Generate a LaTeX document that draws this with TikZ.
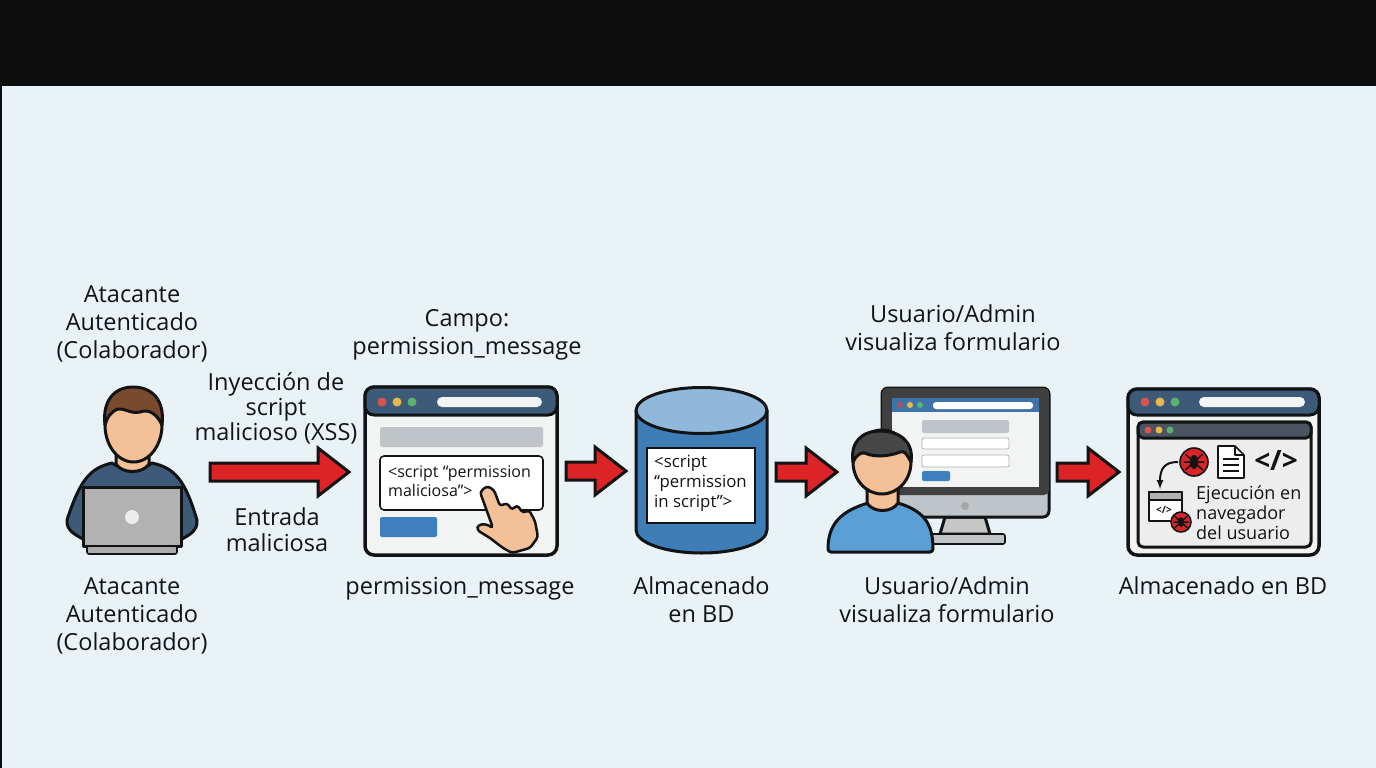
\documentclass[tikz,border=0pt]{standalone}
\usepackage{fontspec}
\setmainfont{Open Sans}
\usetikzlibrary{calc}
\definecolor{paper}{HTML}{E9F3F7}
\definecolor{ink}{HTML}{121315}
\definecolor{arrowred}{HTML}{DC2426}
\definecolor{slate}{HTML}{3D5A78}
\definecolor{skin}{HTML}{F3C097}
\definecolor{hairbrown}{HTML}{7A4A2E}
\definecolor{barblue}{HTML}{3F7FC0}
\definecolor{dbblue}{HTML}{3F7DB6}
\definecolor{dbtop}{HTML}{8FB8DA}
\definecolor{shirt}{HTML}{5A9FD6}
\definecolor{greybar}{HTML}{BFC4C8}
\definecolor{panel}{HTML}{F2F3F3}
\definecolor{innerbar}{HTML}{4A5561}
\definecolor{dotred}{HTML}{D9534F}
\definecolor{dotyellow}{HTML}{E8B84A}
\definecolor{dotgreen}{HTML}{5CB270}
\tikzset{
  lbl/.style={text=ink,align=center,font=\fontsize{23.5}{28}\selectfont,inner sep=0pt},
  boxtext/.style={text=ink,align=left,anchor=west,inner sep=0pt,font=\fontsize{16}{19.5}\selectfont},
  slot/.style={minimum width=#1,inner sep=0pt,outer sep=0pt},
  outline/.style={draw=ink,line width=3pt,line join=round},
  thinline/.style={draw=ink,line width=1.6pt,line join=round},
  window/.style={draw=ink,fill=panel,line width=3.5pt,rounded corners=9pt,inner sep=0pt,outer sep=0pt},
  flowarrow/.style 2 args={draw=ink,fill=arrowred,line width=3pt,line join=miter,
    to path={let \p1=(\tikztostart),\p2=(\tikztotarget) in
      (\x1+#1pt,\y1+9pt)--(\x2-#2pt-31pt,\y1+9pt)--(\x2-#2pt-31pt,\y1+24pt)--(\x2-#2pt,\y1)
      --(\x2-#2pt-31pt,\y1-24pt)--(\x2-#2pt-31pt,\y1-9pt)--(\x1+#1pt,\y1-9pt)--cycle}},
  bug/.pic={
    \fill[arrowred,draw=ink,line width=1.6pt] (0,0) circle (#1);
    \draw[ink,line width=1.5pt,line cap=round]
      (-0.6*#1,-0.55*#1) -- (0.6*#1,0.55*#1)
      (0.6*#1,-0.55*#1) -- (-0.6*#1,0.55*#1)
      (-0.7*#1,0) -- (0.7*#1,0);
    \fill[ink] (0,0) ellipse (0.3*#1 and 0.5*#1);
  }
}
\begin{document}
\begin{tikzpicture}[x=1pt,y=-1pt]
\useasboundingbox (0,0) rectangle (1376,768);
\fill[paper] (0,0) rectangle (1376,768);
\fill[black!95] (0,0) rectangle (1376,85.5);
\fill[black!95] (0,0) rectangle (2,768);

% attacker
\node[slot=132pt,minimum height=170pt] (attacker) at (132,472) {};
\draw[outline,fill=slate] (112,463) .. controls (90,468) and (80,480) .. (67,520)
  .. controls (66,530) and (75,535) .. (85,540) -- (180,540)
  .. controls (190,535) and (198,530) .. (197,520)
  .. controls (185,480) and (175,468) .. (152,463) .. controls (145,470) and (120,470) .. (112,463) -- cycle;
\draw[outline,fill=skin] (116,450) -- (116,464) .. controls (122,474) and (143,474) .. (149,464) -- (149,450) -- cycle;
\draw[outline,fill=skin] (133.5,425) ellipse (28.5 and 37);
\draw[outline,fill=hairbrown] (105,425) .. controls (102,400) and (115,387) .. (133,387)
  .. controls (152,387) and (165,400) .. (162,425) .. controls (158,416) and (150,408) .. (140,412)
  .. controls (130,414) and (125,408) .. (118,409) .. controls (110,412) and (107,418) .. (105,425) -- cycle;
\draw[outline,fill=gray!60] (83,487) rectangle (181,546);
\fill[white!85!gray] (132,517) circle (7);
\draw[thinline,fill=gray!65,rounded corners=2pt] (87,546) rectangle (177,554);

% form
\node[window,minimum width=192pt,minimum height=168pt] (form) at (461,471) {};
\draw[outline,fill=slate,rounded corners=9pt] (365,415) -- (365,387) -- (557,387) -- (557,415) -- cycle;
\fill[dotred] (382,402) circle (4.5);
\fill[dotyellow] (397,402) circle (4.5);
\fill[dotgreen] (412,402) circle (4.5);
\fill[panel,rounded corners=5pt] (437,397) rectangle (542,407);
\fill[greybar,rounded corners=2pt] (380,427) rectangle (543,447);
\draw[thinline,fill=white,rounded corners=4pt] (380,456) rectangle (543,510);
\node[boxtext] (formcode) at (388,481) {<script “permission\\maliciosa”>};
\fill[barblue,rounded corners=2pt] (380,517) rectangle (437,537);
\draw[outline,line width=2.5pt,fill=skin,rounded corners=3pt] (480,492) -- (487,486) -- (494,490) -- (500,506)
  -- (507,503) -- (512,510) -- (517,505) -- (523,513) -- (529,510) -- (535,521) -- (538,537) -- (530,548)
  -- (512,553) -- (503,548) -- (490,538) -- (477,530) -- (478,525) -- (486,524) -- (493,528) -- cycle;

% database
\node[slot=131pt,minimum height=166pt] (db) at (701.5,472) {};
\draw[outline,fill=dbblue] (636,410.5) -- (636,530) arc[start angle=180,end angle=360,x radius=65.5,y radius=-23]
  -- (767,410.5) -- cycle;
\draw[outline,fill=dbtop] (701.5,410.5) ellipse (65.5 and 23);
\node[draw=ink,line width=2pt,fill=white,minimum width=108pt,minimum height=75pt,inner sep=0pt] (dbbox) at (701,485.5) {};
\node[boxtext,font=\fontsize{16.8}{20}\selectfont] (dbcode) at (654,483) {<script\\“permission\\in script”>};

% monitor with user
\node[slot=221pt,minimum height=168pt] (viewer) at (938.5,472) {};
\draw[outline,fill=gray!45] (945,517) -- (985,517) -- (990,534) -- (940,534) -- cycle;
\draw[thinline,fill=greybar,rounded corners=2pt] (925,534) rectangle (1005,544);
\draw[outline,fill=greybar,rounded corners=6pt] (882,388) rectangle (1049,517);
\fill[black!75,rounded corners=5pt] (882,388) rectangle (1049,495);
\fill[panel] (892,398) rectangle (1039,487);
\fill[barblue!70!slate] (892,398) rectangle (1039,412);
\fill[dotred!70!slate] (900,405) circle (3);
\fill[dotyellow] (910,405) circle (3);
\fill[dotgreen] (920,405) circle (3);
\fill[white,rounded corners=3pt] (933,402) rectangle (1033,409);
\fill[greybar,rounded corners=2pt] (922,420) rectangle (1009,433);
\draw[gray!60,fill=white,rounded corners=2pt,line width=0.8pt] (922,438) rectangle (1009,449);
\draw[gray!60,fill=white,rounded corners=2pt,line width=0.8pt] (922,455) rectangle (1009,467);
\fill[barblue,rounded corners=2pt] (922,471) rectangle (950,481);
\fill[gray!70] (965,506) circle (4);
\draw[outline,fill=shirt,rounded corners=3pt] (828,552) .. controls (828,525) and (840,512) .. (868,503)
  -- (898,503) .. controls (925,512) and (933,525) .. (933,552) -- cycle;
\draw[outline,fill=skin] (867,485) -- (867,503) .. controls (873,513) and (892,513) .. (898,503) -- (898,485) -- cycle;
\draw[outline,fill=skin] (882,462) ellipse (29 and 32);
\draw[outline,fill=black!72] (853,462) .. controls (850,442) and (862,431) .. (880,431)
  .. controls (900,431) and (914,442) .. (911,462) .. controls (907,455) and (905,450) .. (900,452)
  .. controls (885,458) and (870,456) .. (865,453) .. controls (860,452) and (856,456) .. (853,462) -- cycle;

% browser
\node[window,minimum width=191pt,minimum height=166pt] (browser) at (1223.5,472) {};
\draw[outline,fill=slate,rounded corners=9pt] (1128,415) -- (1128,389) -- (1319,389) -- (1319,415) -- cycle;
\fill[dotred] (1145,402) circle (4.5);
\fill[dotyellow] (1160,402) circle (4.5);
\fill[dotgreen] (1175,402) circle (4.5);
\fill[panel,rounded corners=5pt] (1199,397) rectangle (1305,407);
\draw[outline,fill=black!7,rounded corners=5pt] (1138,422) rectangle (1311,547);
\draw[outline,fill=innerbar,rounded corners=5pt] (1138,438) -- (1138,422) -- (1311,422) -- (1311,438) -- cycle;
\fill[dotred] (1148,430) circle (3.5);
\fill[dotyellow] (1159,430) circle (3.5);
\fill[dotgreen] (1170,430) circle (3.5);
\pic (bigbug) at (1194,462) {bug=14};
\draw[thinline,fill=white] (1218,446) -- (1235,446) -- (1244,455) -- (1244,478) -- (1218,478) -- cycle;
\draw[thinline] (1235,446) -- (1235,455) -- (1244,455)
  (1223,459) -- (1239,459) (1223,465) -- (1239,465) (1223,471) -- (1239,471);
\node[text=ink,inner sep=0pt,font=\bfseries\fontsize{28}{28}\selectfont] (codetag) at (1276,461) {</>};
\coordinate (bugleft) at (1178,462);
\coordinate (smalltop) at (1160,489);
\draw[ink,line width=2pt,-latex] (bugleft) .. controls (1165,462) and (1160,468) .. (smalltop);
\draw[thinline,fill=white] (1149,492) rectangle (1182,521);
\draw[thinline,fill=gray!60] (1149,492) rectangle (1182,500);
\node[text=ink,inner sep=0pt,font=\bfseries\fontsize{10}{10}\selectfont] (smalltag) at (1164,510) {</>};
\pic (smallbug) at (1181,522) {bug=10};
\node[boxtext,font=\fontsize{18}{20}\selectfont] (runtext) at (1196,513) {Ejecución en\\navegador\\del usuario};

% labels
\node[lbl] (attackertop) at (132,324) {Atacante\\Autenticado\\(Colaborador)};
\node[lbl] (attackerlow) [below of=attacker,node distance=144pt] {Atacante\\Autenticado\\(Colaborador)};
\node[lbl,font=\fontsize{23.5}{25}\selectfont] (inject) at (276,408) {Inyección de\\script\\malicioso (XSS)};
\node[lbl,font=\fontsize{23.5}{26}\selectfont] (entry) at (277,530) {Entrada\\maliciosa};
\node[lbl] (fieldtop) at (467,334.5) {Campo:\\permission\_message};
\node[lbl] (fieldlow) at (460,589) {permission\_message};
\node[lbl] (stored) [below of=db,node distance=128pt] {Almacenado\\en BD};
\node[lbl] (viewtop) at (953,328) {Usuario/Admin\\visualiza formulario};
\node[lbl] (viewlow) at (947,600) {Usuario/Admin\\visualiza formulario};
\node[lbl] (storedtwo) at (1223,586) {Almacenado en BD};

% arrows
\draw[flowarrow={12}{16}] (attacker.east) to (form.west);
\draw[flowarrow={9}{10}] (form.east) to (db.west);
\draw[flowarrow={9}{-9}] (db.east) to (viewer.west);
\draw[flowarrow={8}{9}] (viewer.east) to (browser.west);
\end{tikzpicture}
\end{document}
